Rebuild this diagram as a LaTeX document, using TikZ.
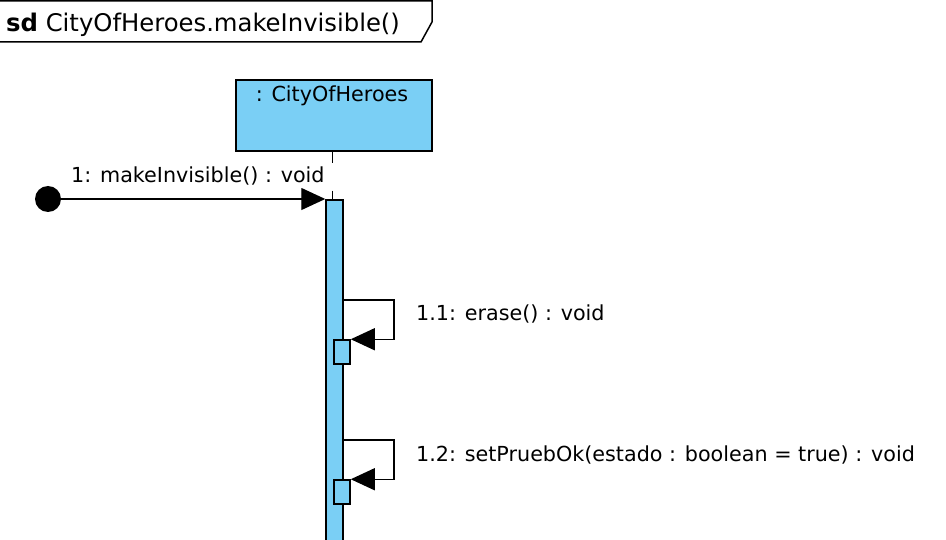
\documentclass[tikz,border=0pt]{standalone}
\usepackage{fontspec}
\setmainfont{DejaVu Sans}
\usepackage{tikz}
\usetikzlibrary{positioning,arrows.meta,calc}
\definecolor{umlblue}{HTML}{7ACFF5}
\tikzset{
  lifebox/.style={draw,line width=1.5pt,fill=umlblue,minimum width=196pt,minimum height=71pt,inner sep=0pt},
  actbar/.style={draw,line width=1.5pt,fill=umlblue,minimum width=17pt,inner sep=0pt},
  actsmall/.style={draw,line width=1.5pt,fill=umlblue,minimum width=16pt,minimum height=24pt,inner sep=0pt},
  msg/.style={-{Triangle[length=24pt,width=22pt]},line width=1.3pt},
  lbl/.style={font=\fontsize{20.7}{24}\selectfont,inner sep=1pt,anchor=base west}
}
\begin{document}
\begin{tikzpicture}[x=1pt,y=-1pt]
\useasboundingbox (0,0) rectangle (946,540);
% frame label
\draw[line width=1.5pt] (-2,1) -- (432,1) -- (432,22) -- (421,42) -- (-2,42);
\node[lbl,font=\fontsize{24.3}{28}\selectfont] (title) at (5,32) {\textbf{sd} CityOfHeroes.makeInvisible()};

% lifeline
\node[lifebox] (city) at (334,115.5) {};
\node[lbl,anchor=base] (cityname) at (332,102) {: CityOfHeroes};
\node[actbar,minimum height=344pt] (act) at (334.5,372) {};
\draw[line width=1.3pt,dash pattern=on 11pt off 28pt on 10pt]
  ($(act.north |- city.south)+(-2,0)$) -- ($(act.north)+(-2,0)$);

% found message
\node[circle,fill=black,minimum size=26pt,inner sep=0pt] (start) at (48,199) {};
\draw[msg] (start.center) -- (start.center -| act.west);
\node[lbl,fill=white,inner sep=2pt] (m1) at (69,183) {1: makeInvisible() : void};

% self messages
\node[actsmall] (act11) at (342,352) {};
\node[actsmall] (act12) at (342,492) {};
\coordinate (s11) at (394,300);
\coordinate (s12) at (394,440);
\draw[msg] (act.east |- s11) -- (s11) |- (act11.north east);
\draw[msg] (act.east |- s12) -- (s12) |- (act12.north east);
\node[lbl] (m11) at (415,321) {1.1: erase() : void};
\node[lbl] (m12) at (415,461) {1.2: setPruebOk(estado : boolean = true) : void};
\end{tikzpicture}
\end{document}
